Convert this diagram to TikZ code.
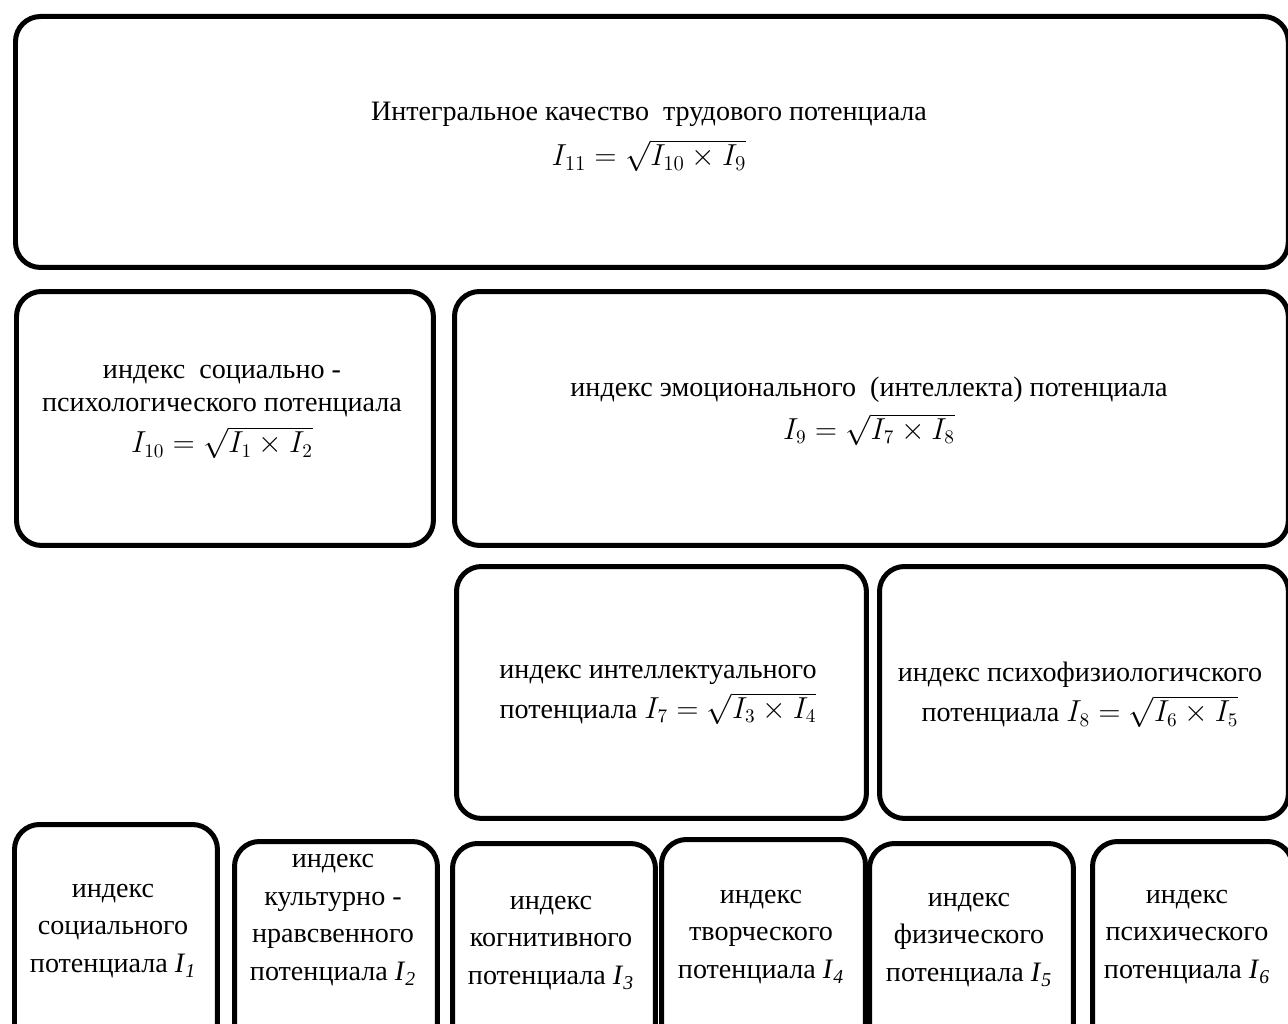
\documentclass[tikz,border=0pt]{standalone}
\usepackage{fontspec}
\setmainfont{Liberation Serif}
\usepackage{tikz}

\newcommand{\Ind}[1]{\textit{I}\textsubscript{\textit{#1}}}

\begin{document}
\begin{tikzpicture}[x=0.02cm,y=-0.02cm,
    box/.style={draw,line width=0.1cm,rounded corners=0.5cm,anchor=north west,inner sep=0pt},
    txt/.style={align=center,font=\fontsize{16}{18.5}\selectfont,inner sep=0pt},
    low/.style={txt,font=\fontsize{16}{21.5}\selectfont}]
    %page
    \useasboundingbox (0,0) rectangle (1288,1024);
    \clip (0,0) rectangle (1288,1024);

    %top
    \node[box,minimum width=25.46cm,minimum height=5.02cm] (b11) at (13,14) {};
    \node[txt] (t11) at (649,137) {Интегральное качество \ трудового потенциала\\[7pt]
        {\fontsize{17.5}{20}\selectfont$I_{11}=\sqrt{I_{10}\times I_9}$}};

    %second row
    \node[box,minimum width=8.34cm,minimum height=5.08cm] (b10) at (14,289) {};
    \node[txt] (t10) at (222,412) {индекс \ социально -\\психологического потенциала\\[5pt]
        $I_{10}=\sqrt{I_1\times I_2}$};
    \node[box,minimum width=16.68cm,minimum height=5.08cm] (b9) at (452,289) {};
    \node[txt] (t9) at (869,411) {индекс эмоционального \ (интеллекта) потенциала\\[6pt]
        $I_9=\sqrt{I_7\times I_8}$};

    %third row
    \node[box,minimum width=8.2cm,minimum height=5.04cm] (b7) at (454,564) {};
    \node[txt] (t7) at (658,695) {индекс интеллектуального\\[4pt]потенциала $I_7=\sqrt{I_3\times I_4}$};
    \node[box,minimum width=8.18cm,minimum height=5.04cm] (b8) at (877,564) {};
    \node[txt] (t8) at (1080,695) {индекс психофизиологичского\\[4pt]потенциала $I_8=\sqrt{I_6\times I_5}$};

    %bottom row
    \node[box,minimum width=4.06cm,minimum height=4.6cm] (b1) at (12,822) {};
    \node[low] (t1) at (113,931) {индекс\\социального\\потенциала \Ind{1}};
    \node[box,minimum width=4.06cm,minimum height=4.6cm] (b2) at (232,839) {};
    \node[low] (t2) at (333,920) {индекс\\культурно -\\нравсвенного\\потенциала \Ind{2}};
    \node[box,minimum width=4.06cm,minimum height=4.6cm] (b3) at (450,841) {};
    \node[low] (t3) at (551,943) {индекс\\когнитивного\\потенциала \Ind{3}};
    \node[box,minimum width=4.08cm,minimum height=4.6cm] (b4) at (659,837) {};
    \node[low] (t4) at (761,937) {индекс\\творческого\\потенциала \Ind{4}};
    \node[box,minimum width=4.08cm,minimum height=4.6cm] (b5) at (867,841) {};
    \node[low] (t5) at (969,940) {индекс\\физического\\потенциала \Ind{5}};
    \node[box,minimum width=4.0cm,minimum height=4.6cm] (b6) at (1090,839) {};
    \node[low] (t6) at (1187,937) {индекс\\психического\\потенциала \Ind{6}};
\end{tikzpicture}
\end{document}
